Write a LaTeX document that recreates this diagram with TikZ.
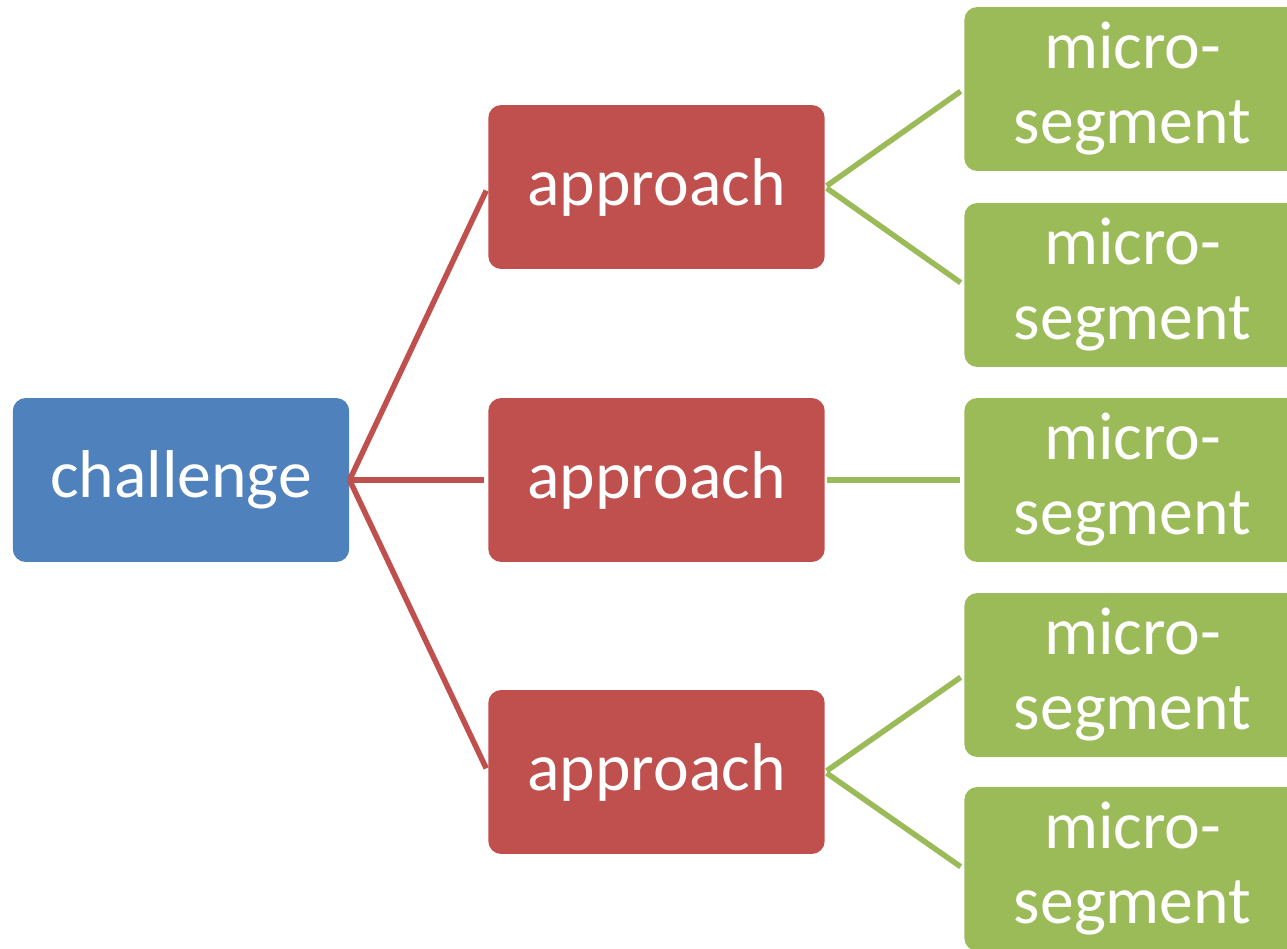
\documentclass[tikz,border=0pt]{standalone}
\usepackage{fontspec}
\setmainfont{Carlito}
\usepackage{tikz}
\definecolor{chalblue}{HTML}{4F81BD}
\definecolor{apprred}{HTML}{C0504D}
\definecolor{segmgreen}{HTML}{9BBB59}

\begin{document}
\begin{tikzpicture}[x=0.02cm,y=-0.02cm,
  box/.style={rounded corners=0.26cm, minimum width=6.73cm, minimum height=3.28cm, inner sep=0pt,
    text=white, align=center, font=\fontsize{38.5}{42.7}\selectfont},
  chalbox/.style={box, fill=chalblue},
  apprbox/.style={box, fill=apprred},
  segmbox/.style={box, fill=segmgreen},
  redline/.style={apprred, line width=0.11cm, shorten >=0.08cm},
  greenline/.style={segmgreen, line width=0.11cm, shorten <=0.04cm, shorten >=0.08cm}]
\useasboundingbox (0,0) rectangle (1287,949);
\clip (0,0) rectangle (1287,949);
\node[chalbox] (chal) at (181,480) {challenge};
\node[apprbox] (appr1) at (656.5,187) {approach};
\node[apprbox] (appr2) at (656.5,480) {approach};
\node[apprbox] (appr3) at (656.5,772) {approach};
\node[segmbox] (segm1) at (1132.5,89) {micro-\\segment};
\node[segmbox] (segm2) at (1132.5,285) {micro-\\segment};
\node[segmbox] (segm3) at (1132.5,480) {micro-\\segment};
\node[segmbox] (segm4) at (1132.5,675) {micro-\\segment};
\node[segmbox] (segm5) at (1132.5,869) {micro-\\segment};
\draw[redline] (chal.east) -- (appr1.west);
\draw[redline] (chal.east) -- (appr2.west);
\draw[redline] (chal.east) -- (appr3.west);
\draw[greenline] (appr1.east) -- (segm1.west);
\draw[greenline] (appr1.east) -- (segm2.west);
\draw[greenline] (appr2.east) -- (segm3.west);
\draw[greenline] (appr3.east) -- (segm4.west);
\draw[greenline] (appr3.east) -- (segm5.west);
\end{tikzpicture}
\end{document}
